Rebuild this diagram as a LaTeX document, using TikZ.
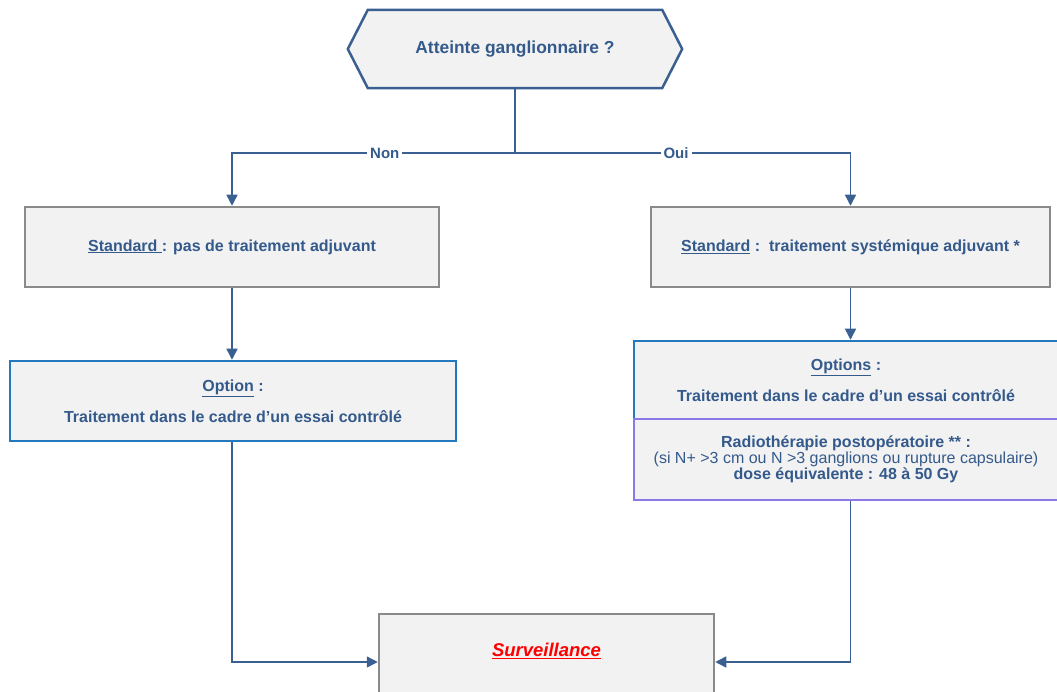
\documentclass[tikz,border=0pt]{standalone}
\usepackage{fontspec}
\setmainfont{Liberation Sans}
\usetikzlibrary{arrows.meta,calc,backgrounds}
\newcommand\myul[1]{\underline{#1}}
\definecolor{txtblue}{RGB}{52,90,140}
\definecolor{lineblue}{RGB}{58,95,145}
\definecolor{boxgray}{RGB}{138,138,138}
\definecolor{boxblue}{RGB}{36,120,190}
\definecolor{boxpurple}{RGB}{140,120,230}
\definecolor{boxfill}{RGB}{242,242,242}
\definecolor{survred}{RGB}{255,0,0}
\tikzset{
  basebox/.style={rectangle, fill=boxfill, line width=2.5pt, inner sep=0pt, align=center,
    text=txtblue, font=\fontsize{16}{19}\selectfont\bfseries},
  graybox/.style={basebox, draw=boxgray},
  bluebox/.style={basebox, draw=boxblue},
  purplebox/.style={basebox, draw=boxpurple, font=\fontsize{16}{16}\selectfont\bfseries},
  hexnode/.style={rectangle, minimum width=334pt, minimum height=78pt, inner sep=0pt,
    text=txtblue, font=\fontsize{17.4}{20}\selectfont\bfseries},
  hexline/.style={draw=lineblue, fill=boxfill, line width=2.5pt, line join=miter},
  conn/.style={draw=lineblue, line width=1.5pt},
  arr/.style={conn, -{Triangle[length=11pt,width=11pt]}},
  lbl/.style={fill=white, text=txtblue, inner sep=3pt, font=\fontsize{15}{18}\selectfont\bfseries},
  survtxt/.style={text=survred, inner sep=0pt, font=\fontsize{18.5}{22}\selectfont\bfseries\itshape}
}
\begin{document}
\begin{tikzpicture}[x=1pt,y=-1pt]
\useasboundingbox (0,0) rectangle (1057,692);
\clip (0,0) rectangle (1057,692);

% decision hexagon
\node[hexnode] (hex) at (515,49) {Atteinte ganglionnaire ?};
\begin{pgfonlayer}{background}
\draw[hexline] (hex.west) -- ($(hex.north west)+(20,0)$) -- ($(hex.north east)+(-20,0)$)
  -- (hex.east) -- ($(hex.south east)+(-20,0)$) -- ($(hex.south west)+(20,0)$) -- cycle;
\end{pgfonlayer}

% boxes
\node[graybox, minimum width=414pt, minimum height=80pt] (box1) at (232,247)
  {\myul{Standard\ }: pas de traitement adjuvant};
\node[graybox, minimum width=399pt, minimum height=80pt] (box2) at (850.5,247)
  {\myul{Standard} :\ \ traitement systémique adjuvant *};
\node[bluebox, minimum width=446pt, minimum height=80pt] (box3) at (233,401)
  {\myul{Option} :\\[12pt] Traitement dans le cadre d’un essai contrôlé};
\node[bluebox, minimum width=424pt, minimum height=78pt] (box4) at (846,380)
  {\myul{Options} :\\[12pt] Traitement dans le cadre d’un essai contrôlé};
\node[purplebox, minimum width=424pt, minimum height=81pt] (box5) at (846,459.5)
  {Radiothérapie postopératoire ** :\\
   {\mdseries (si N+ >3 cm ou N >3 ganglions ou rupture capsulaire)}\\
   dose équivalente : 48 à 50 Gy};
\node[graybox, minimum width=335pt, minimum height=96pt] (box6) at (546.5,662) {};
\node[survtxt] (surv) at ($(box6.center)+(0,-11)$) {\myul{Surveillance}};

% connectors
\coordinate (split) at (515,153);
\draw[conn] (hex.south) -- (split);
\draw[arr] (split) -| node[lbl, pos=0.23] (non) {Non} (box1.north);
\draw[arr] (split) -| node[lbl, pos=0.24] (oui) {Oui} (box2.north);
\draw[arr] (box1.south) -- (box1.south |- box3.north);
\draw[arr] (box2.south) -- (box2.south |- box4.north);
\draw[arr] (box1.south |- box3.south) |- (box6.west);
\draw[arr] (box2.south |- box5.south) |- (box6.east);
\end{tikzpicture}
\end{document}
